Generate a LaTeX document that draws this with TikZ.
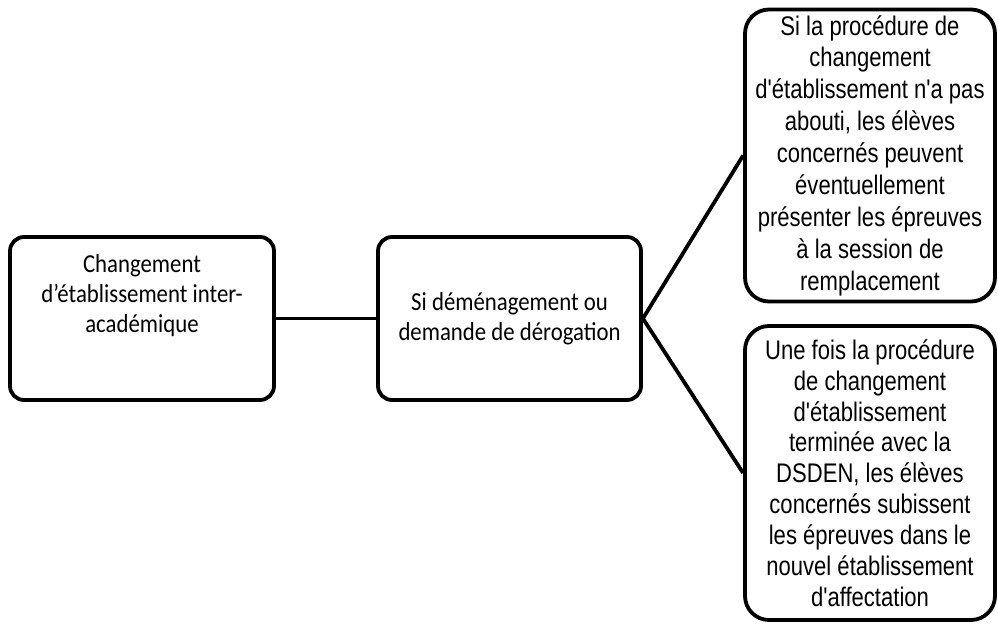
\documentclass[tikz,border=0pt]{standalone}
\usepackage{fontspec}
\newfontfamily\calibfont[FakeStretch=0.88]{Carlito}
\newfontfamily\arialfont[FakeStretch=0.82,Ligatures=TeXOff]{Liberation Sans}
\begin{document}
\begin{tikzpicture}[x=1bp,y=-1bp,
    box/.style={draw,line width=3.8bp,rounded corners=14bp,align=center,inner sep=0pt},
    leftbox/.style={box,minimum width=264bp,minimum height=163bp,
      font=\calibfont\fontsize{26}{30}\selectfont},
    rightbox/.style={box,rounded corners=24bp,minimum width=250bp,
      font=\arialfont\fontsize{27}{31}\selectfont}]
  \useasboundingbox (0,0) rectangle (998,624);
  \draw
    (142,318.5) node[leftbox] (chgt){Changement\\d’établissement inter-\\académique\\[20bp]\mbox{}}
    (509.5,318.5) node[leftbox,minimum width=263bp] (demenag){Si déménagement ou\\demande de dérogation}
    (870,155.5) node[rightbox,minimum height=292bp,font=\arialfont\fontsize{27}{32}\selectfont] (echec){Si la procédure de\\changement\\d'établissement n'a pas\\abouti, les élèves\\concernés peuvent\\éventuellement\\présenter les épreuves\\à la session de\\remplacement}
    (870,473) node[rightbox,minimum height=294bp] (fin){Une fois la procédure\\de changement\\d'établissement\\terminée avec la\\DSDEN, les élèves\\concernés subissent\\les épreuves dans le\\nouvel établissement\\d'affectation};
  \begin{scope}[line width=3.8bp]
    \draw (chgt) to (demenag);
    \draw (demenag.east) to (echec.west);
    \draw (demenag.east) to (fin.west);
  \end{scope}
\end{tikzpicture}
\end{document}
